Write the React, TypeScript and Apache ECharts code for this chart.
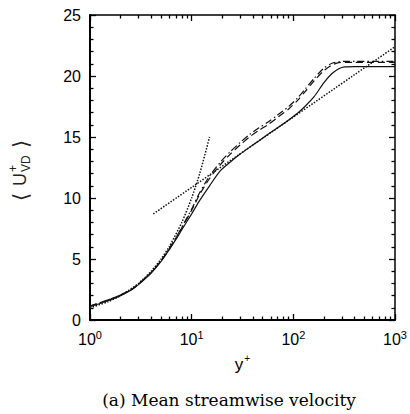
import React, { useEffect, useRef } from "react";
import * as echarts from "echarts";

// y+ sampling of the three DNS profiles
const yPlus = [1, 1.4, 2, 2.6, 3, 4, 5, 6, 7, 8, 10, 12, 15, 19, 24, 30, 37, 46, 56, 70, 90, 110, 130, 160, 200, 240, 280, 320, 400, 600, 1000];
const solidU = [1.1, 1.5, 2.0, 2.5, 2.9, 3.85, 4.8, 5.75, 6.6, 7.4, 8.7, 9.8, 11.0, 12.2, 12.95, 13.6, 14.15, 14.7, 15.2, 15.75, 16.4, 16.95, 17.5, 18.3, 19.45, 20.2, 20.6, 20.75, 20.77, 20.77, 20.77];
const dashedU = [1.15, 1.55, 2.05, 2.55, 2.95, 3.9, 4.85, 5.8, 6.7, 7.55, 9.0, 10.3, 11.6, 12.7, 13.6, 14.35, 15.0, 15.55, 16.0, 16.6, 17.3, 18.0, 18.7, 19.6, 20.45, 20.9, 21.1, 21.12, 21.12, 21.12, 21.12];
const dashDotU = [1.15, 1.55, 2.05, 2.55, 2.95, 3.9, 4.85, 5.85, 6.75, 7.6, 9.1, 10.45, 11.8, 12.9, 13.8, 14.55, 15.2, 15.75, 16.2, 16.8, 17.5, 18.2, 18.9, 19.8, 20.65, 21.05, 21.18, 21.2, 21.2, 21.2, 21.2];

// viscous sublayer reference (U+ = y+)
const viscX = [1, 1.5, 2, 3, 4, 5, 6, 8, 10, 12, 15];
const viscU = [1, 1.5, 2, 3, 4, 5, 6, 8, 10, 12, 15];

// log-law reference
const logX = [4.2, 1000];
const logU = [8.7, 22.4];

const yTicks = [0, 5, 10, 15, 20, 25];
const xTicks = [1, 10, 100, 1000];

const pair = (xs: number[], ys: number[]) => xs.map((x, i) => [x, ys[i]]);

const FONT = "Liberation Sans";

export default function App() {
  const ref = useRef<HTMLDivElement>(null);
  useEffect(() => {
    if (!ref.current) return;
    const chart = echarts.init(ref.current, null, { renderer: "svg" });
    const tickStyle = { color: "#000", width: 1.3 };
    const xCommon = {
      type: "log" as const,
      logBase: 10,
      min: xTicks[0],
      max: xTicks[xTicks.length - 1],
      axisLine: { show: true, onZero: false, lineStyle: { color: "#000", width: 2 } },
      axisTick: { show: true, inside: true, length: 6, lineStyle: tickStyle },
      minorTick: { show: true, splitNumber: 9, length: 3.5, lineStyle: tickStyle },
      splitLine: { show: false },
    };
    const yCommon = {
      type: "value" as const,
      min: yTicks[0],
      max: yTicks[yTicks.length - 1],
      interval: 5,
      axisLine: { show: true, onZero: false, lineStyle: { color: "#000", width: 2 } },
      axisTick: { show: true, inside: true, length: 6, lineStyle: tickStyle },
      minorTick: { show: true, splitNumber: 5, length: 3.5, lineStyle: tickStyle },
      splitLine: { show: false },
    };
    const lineSeries = (data: number[][], type: any, width = 1.2) => ({
      type: "line",
      data,
      showSymbol: false,
      symbol: "none",
      smooth: 0.25,
      lineStyle: { color: "#111", width, type },
      xAxisIndex: 0,
      yAxisIndex: 0,
    });
    const lbl = (text: string, x: number, y: number, fontSize: number, family = FONT) => ({
      type: "text",
      x,
      y,
      style: { text, fontSize, fontFamily: family, fill: "#222", textVerticalAlign: "bottom" },
    });
    chart.setOption({
      animation: false,
      backgroundColor: "#fff",
      grid: { left: 90, right: 15, top: 15, bottom: 94, containLabel: false },
      xAxis: [
        {
          ...xCommon,
          position: "bottom",
          axisLabel: {
            show: true,
            margin: 9,
            formatter: (v: number) => `{b|10}{s|${Math.round(Math.log10(v))}}`,
            rich: {
              b: { fontSize: 16, fontFamily: FONT, color: "#000" },
              s: { fontSize: 11, fontFamily: FONT, color: "#000", padding: [0, 0, 9, 0] },
            },
          },
          name: "{y|y}{p|+}",
          nameLocation: "middle",
          nameGap: 33,
          nameTextStyle: {
            rich: {
              y: { fontSize: 17, fontFamily: FONT, color: "#000" },
              p: { fontSize: 10, fontFamily: FONT, color: "#000", padding: [0, 0, 12, 1] },
            },
          },
        },
        { ...xCommon, position: "top", axisLabel: { show: false }, axisLine: { show: true, onZero: false, lineStyle: { color: "#000", width: 1.5 } } },
      ],
      yAxis: [
        {
          ...yCommon,
          position: "left",
          axisLabel: { show: true, margin: 9, fontSize: 16, fontFamily: FONT, color: "#000" },
        },
        { ...yCommon, position: "right", axisLabel: { show: false }, axisLine: { show: true, onZero: false, lineStyle: { color: "#000", width: 1.5 } } },
      ],
      series: [
        lineSeries(pair(logX, logU), [1.5, 1.5], 1.5),
        lineSeries(pair(viscX, viscU), [1.5, 1.5], 1.5),
        lineSeries(pair(yPlus, solidU), "solid", 1.2),
        lineSeries(pair(yPlus, dashedU), [7, 4], 1.2),
        lineSeries(pair(yPlus, dashDotU), [7, 3, 1.5, 3], 1.2),
      ],
      graphic: [
        {
          type: "group",
          x: 29,
          y: 203,
          rotation: Math.PI / 2,
          children: [
            lbl("⟨", 2, 2, 21, "DejaVu Sans"),
            lbl("U", 17, 0, 18),
            lbl("+", 31, -10, 12),
            lbl("VD", 31, 3, 12),
            lbl("⟩", 55, 2, 21, "DejaVu Sans"),
          ],
        },
        {
          type: "text",
          x: 229,
          y: 400,
          style: {
            text: "(a) Mean streamwise velocity",
            fontSize: 17,
            fontFamily: "DejaVu Serif",
            fontWeight: "normal",
            fill: "#000",
            textAlign: "center",
            textVerticalAlign: "middle",
          },
        },
      ],
    });
    return () => chart.dispose();
  }, []);
  return <div ref={ref} style={{ position: "absolute", left: 0, top: 0, width: 410, height: 414 }} />;
}
